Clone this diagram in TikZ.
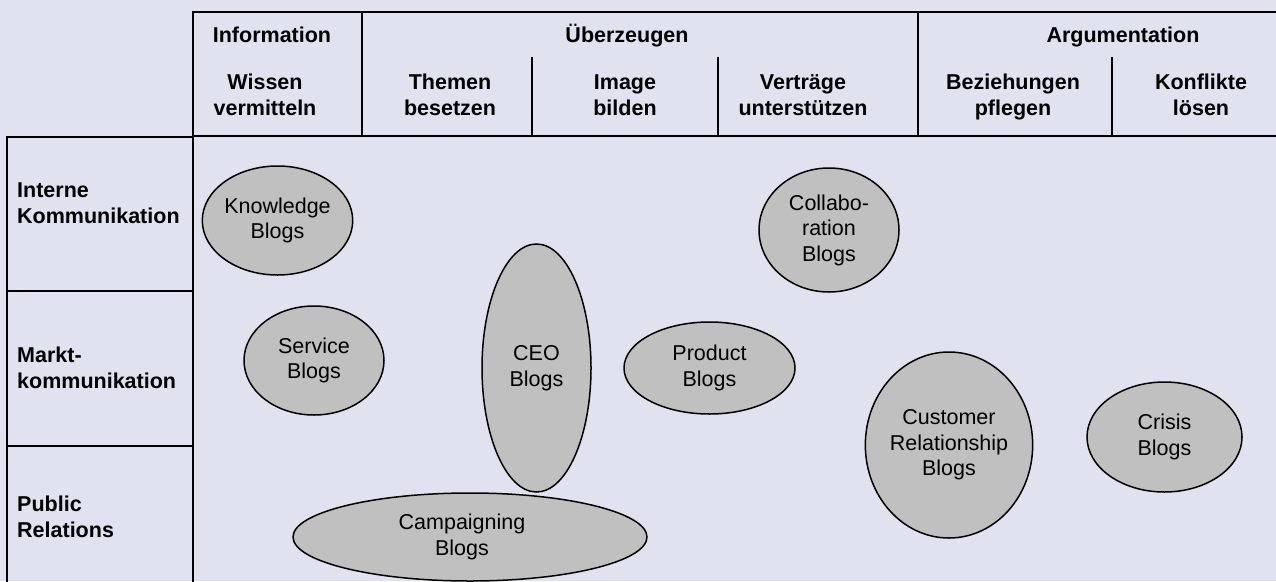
\documentclass[tikz,border=0pt]{standalone}
\usepackage{fontspec}
\setmainfont{Liberation Sans}
\usetikzlibrary{shapes.geometric}
\definecolor{bg}{RGB}{224,226,239}
\definecolor{blobfill}{RGB}{192,192,192}
\begin{document}
\begin{tikzpicture}[x=1pt,y=-1pt,
  txt/.style={font=\fontsize{21.5}{25.5}\selectfont},
  grid/.style={line width=2pt,line cap=rect},
  head/.style={font=\fontsize{21.5}{25.5}\selectfont\bfseries, align=center, inner sep=0pt},
  rowlab/.style={font=\fontsize{21.5}{25.5}\selectfont\bfseries, align=left, anchor=west, inner sep=0pt},
  blog/.style={txt, ellipse, draw, line width=1.5pt, fill=blobfill, inner sep=0pt, align=center}
]
\fill[bg] (0,0) rectangle (1276,581);
\useasboundingbox (0,0) rectangle (1276,581);

% header table
\draw[grid] (1280,12) -- (193,12) -- (193,585);
\draw[grid] (193,136) -- (1280,136);
\draw[grid] (362,12) -- (362,136);
\draw[grid] (918,12) -- (918,136);
\draw[grid] (532,58) -- (532,136);
\draw[grid] (718,58) -- (718,136);
\draw[grid] (1112,58) -- (1112,136);
% row label table
\draw[grid] (193,137) -- (7,137) -- (7,585);
\draw[grid] (7,291) -- (193,291);
\draw[grid] (7,446) -- (193,446);

% column headers
\node[head, anchor=base] (info) at (272,42.5) {Information};
\node[head, anchor=base] (ueber) at (627,42.5) {Überzeugen};
\node[head, anchor=base] (argu) at (1123,42.5) {Argumentation};
\node[head] (wissen) at (265,95) {Wissen\\vermitteln};
\node[head] (themen) at (450,95) {Themen\\besetzen};
\node[head] (image) at (625,95) {Image\\bilden};
\node[head] (vertr) at (803,95) {Verträge\\unterstützen};
\node[head] (bez) at (1013,97) {Beziehungen\\pflegen};
\node[head] (konf) at (1201,95) {Konflikte\\lösen};

% row labels
\node[rowlab] (intern) at (17,203) {Interne\\Kommunikation};
\node[rowlab] (markt) at (17,368) {Markt-\\kommunikation};
\node[rowlab] (pr) at (17,517) {Public\\Relations};

% blogs
\node[blog, minimum width=354pt, minimum height=88pt] (campaign) at (470,537) {\hspace*{-16pt}Campaigning\\\hspace*{-16pt}Blogs};
\node[blog, minimum width=141pt, minimum height=109pt] (knowledge) at (277.5,220.5) {Knowledge\\Blogs};
\node[blog, minimum width=140pt, minimum height=109pt] (service) at (314,360.5) {Service\\Blogs};
\node[blog, minimum width=109pt, minimum height=248pt] (ceo) at (536.5,368) {CEO\\Blogs};
\node[blog, minimum width=140pt, minimum height=124pt] (collab) at (829,230) {Collabo-\\ration\\Blogs};
\node[blog, minimum width=171pt, minimum height=92pt] (product) at (709.5,368) {Product\\Blogs};
\node[blog, minimum width=124pt, minimum height=186pt] (customer) at (949,445) {Customer\\Relationship\\Blogs};
\node[blog, minimum width=155pt, minimum height=110pt] (crisis) at (1164.5,437) {Crisis\\Blogs};
\end{tikzpicture}
\end{document}
